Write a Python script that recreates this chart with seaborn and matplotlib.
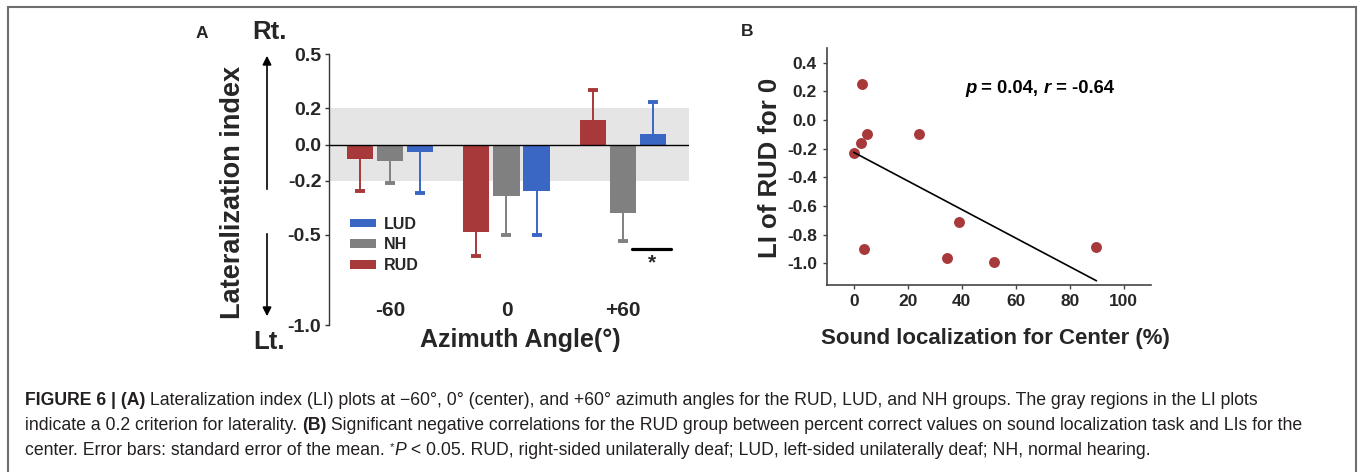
import numpy as np
import pandas as pd
import matplotlib
matplotlib.use("Agg")
import matplotlib.pyplot as plt
import seaborn as sns

# ---------- DATA ----------
angles = ["-60", "0", "+60"]
groups = ["RUD", "NH", "LUD"]
li_rud = [-0.078, -0.484, 0.137]
li_nh = [-0.089, -0.286, -0.382]
li_lud = [-0.039, -0.257, 0.059]
sem_rud = [0.181, 0.135, 0.163]
sem_nh = [0.123, 0.214, 0.150]
sem_lud = [0.231, 0.242, 0.179]

loc_center = [3.1, 4.9, 2.8, 0.0, 24.0, 38.9, 3.9, 34.4, 51.9, 89.9]
li_center = [0.252, -0.098, -0.161, -0.233, -0.096, -0.710, -0.896, -0.963, -0.988, -0.886]

a_yticks = [0.5, 0.2, 0.0, -0.2, -0.5, -1.0]
b_xticks = [0, 20, 40, 60, 80, 100]
b_yticks = [0.4, 0.2, 0.0, -0.2, -0.4, -0.6, -0.8, -1.0]

colors = {"RUD": "#a8393a", "NH": "#808080", "LUD": "#3b67c4"}

# ---------- STYLE ----------
sns.set_style("ticks")
plt.rcParams["font.family"] = ["Liberation Sans", "DejaVu Sans"]

W, H = 1362, 472
fig = plt.figure(figsize=(W / 100, H / 100), dpi=100)


def fx(x):
    return x / W


def fy(y):
    return 1 - y / H


axA = fig.add_axes([fx(329), fy(325), (689 - 329) / W, (325 - 54.3) / H])
axB = fig.add_axes([fx(826.7), fy(285), (1150.7 - 826.7) / W, (285 - 48.3) / H])

# ---------- PANEL A ----------
df = pd.DataFrame({
    "angle": angles * 3,
    "group": np.repeat(groups, 3),
    "LI": li_rud + li_nh + li_lud,
})
sns.barplot(data=df, x="angle", y="LI", hue="group", order=angles,
            hue_order=groups, palette=colors, errorbar=None, width=0.775,
            gap=0.13, saturation=1, linewidth=0, ax=axA, zorder=3)

# one-sided SEM bars, cap only at the outer end
for cont, errs in zip(axA.containers, [sem_rud, sem_nh, sem_lud]):
    for bar, e in zip(cont, errs):
        h = bar.get_height()
        xc = bar.get_x() + bar.get_width() / 2
        lo, hi = (e, 0) if h < 0 else (0, e)
        _, caps, _ = axA.errorbar(xc, h, yerr=[[lo], [hi]], fmt="none",
                                  ecolor=bar.get_facecolor(), elinewidth=1.4,
                                  capsize=3.5, capthick=2.8, zorder=2)
        for c in caps:
            c.set_solid_capstyle("round")
            if abs(c.get_ydata()[0] - h) < 1e-9:
                c.remove()

axA.axhspan(-0.2, 0.2, color="#e5e5e5", lw=0, zorder=0)
axA.axhline(0, color="black", lw=1, zorder=4)

axA.set_xlim(-0.524, 2.567)
axA.set_ylim(-1.0, 0.5)
axA.set_yticks(a_yticks, labels=[f"{v:.1f}" for v in a_yticks])
axA.set_xticks(range(3), labels=angles)
for s in ["top", "right", "bottom"]:
    axA.spines[s].set_visible(False)
axA.spines["left"].set_color("#333333")
axA.spines["left"].set_linewidth(1)
axA.tick_params(axis="y", direction="out", length=3, width=1,
                color="#333333", labelsize=14, pad=2.5)
axA.tick_params(axis="x", length=0, labelsize=15, pad=-17)
for t in axA.get_yticklabels() + axA.get_xticklabels():
    t.set_fontweight("bold")

axA.set_xlabel("Azimuth Angle(°)", fontsize=18, fontweight="bold", va="center")
axA.xaxis.set_label_coords(0.531, -0.055)
axA.set_ylabel("Lateralization index", fontsize=19.5, fontweight="bold", va="center")
axA.yaxis.set_label_coords((233 - 329) / 360, (325 - 192) / 270.7)

handles, labels = axA.get_legend_handles_labels()
axA.legend(handles[::-1], labels[::-1], loc="upper left",
           bbox_to_anchor=(0.058, 0.4), frameon=False,
           prop={"weight": "bold", "size": 11.5}, handlelength=1.65,
           handleheight=0.45, handletextpad=0.45, labelspacing=0.35,
           borderpad=0, borderaxespad=0)

# significance marker for +60
axA.plot([2.077, 2.412], [-0.58, -0.58], color="black", lw=2.3, clip_on=False, zorder=5)
axA.text(2.245, -0.655, "*", ha="center", va="center", fontsize=15, fontweight="bold")

# direction arrows
axA.annotate("", xy=(fx(267), fy(53)), xytext=(fx(267), fy(192)),
             xycoords="figure fraction",
             arrowprops=dict(arrowstyle="-|>", color="black", lw=1.2, mutation_scale=13))
axA.annotate("", xy=(fx(267), fy(319)), xytext=(fx(267), fy(231)),
             xycoords="figure fraction",
             arrowprops=dict(arrowstyle="-|>", color="black", lw=1.2, mutation_scale=13))
fig.text(fx(270), fy(32), "Rt.", ha="center", va="center", fontsize=18.5, fontweight="bold")
fig.text(fx(269), fy(342), "Lt.", ha="center", va="center", fontsize=18.5, fontweight="bold")
fig.text(fx(202), fy(33), "A", ha="center", va="center", fontsize=12.5, fontweight="bold")

# ---------- PANEL B ----------
sns.regplot(x=loc_center, y=li_center, ax=axB, ci=None, color=colors["RUD"],
            scatter_kws={"s": 62, "linewidths": 0, "alpha": 1},
            line_kws={"color": "black", "lw": 1.2})
axB.set_xlim(-10, 110)
axB.set_ylim(-1.15, 0.5)
axB.set_xticks(b_xticks)
axB.set_yticks(b_yticks, labels=[f"{v:.1f}" for v in b_yticks])
sns.despine(ax=axB)
for s in ["left", "bottom"]:
    axB.spines[s].set_color("#444444")
    axB.spines[s].set_linewidth(1.2)
axB.tick_params(direction="out", length=3, width=1, color="#444444", labelsize=12.5)
axB.tick_params(axis="y", pad=4)
axB.tick_params(axis="x", pad=3.5)
for t in axB.get_yticklabels() + axB.get_xticklabels():
    t.set_fontweight("bold")
axB.set_xlabel("Sound localization for Center (%)", fontsize=16, fontweight="bold", va="center")
axB.xaxis.set_label_coords(0.5216, -0.224)
axB.set_ylabel("LI of RUD for 0", fontsize=18.5, fontweight="bold", va="center")
axB.yaxis.set_label_coords(-0.175, 0.494)
fig.text(fx(747), fy(32), "B", ha="center", va="center", fontsize=12.5, fontweight="bold")


def chain_text(x_px, y_px, pieces, size, color):
    first = fig.text(fx(x_px), fy(y_px), pieces[0][0], ha="left", va="baseline",
                     fontsize=size, color=color, **pieces[0][1])
    prev = first
    for txt, st in pieces[1:]:
        st = dict(st)
        dy = st.pop("dy", 0)
        fs = st.pop("size", size)
        prev = axB.annotate(txt, xy=(1, 0), xycoords=(prev, first),
                            xytext=(0, dy), textcoords="offset points",
                            ha="left", va="bottom", fontsize=fs, color=color,
                            annotation_clip=False, **st)
    return first


chain_text(965, 93, [("p", {"fontweight": "bold", "fontstyle": "italic"}),
                     (" = 0.04, ", {"fontweight": "bold"}),
                     ("r", {"fontweight": "bold", "fontstyle": "italic"}),
                     (" = -0.64", {"fontweight": "bold"})], 13.3, "black")

# ---------- CAPTION ----------
cap_fs = 12.7
cap_col = "#231f20"
chain_text(25, 405, [
    ("FIGURE 6 | (A)", {"fontweight": "bold"}),
    (" Lateralization index (LI) plots at \u221260°, 0° (center), and +60° azimuth angles "
     "for the RUD, LUD, and NH groups. The gray regions in the LI plots", {}),
], cap_fs, cap_col)
chain_text(25, 430, [
    ("indicate a 0.2 criterion for laterality. ", {}),
    ("(B)", {"fontweight": "bold"}),
    (" Significant negative correlations for the RUD group between percent correct values "
     "on sound localization task and LIs for the", {}),
], cap_fs, cap_col)
chain_text(25, 455, [
    ("center. Error bars: standard error of the mean. ", {}),
    ("*", {"dy": 5, "size": 8}),
    ("P", {"fontstyle": "italic"}),
    (" < 0.05. RUD, right-sided unilaterally deaf; LUD, left-sided unilaterally deaf; "
     "NH, normal hearing.", {}),
], cap_fs, cap_col)

# figure frame
fig.add_artist(plt.Rectangle((fx(7.5), -0.1), fx(1356) - fx(7.5), fy(6.5) + 0.1,
                             transform=fig.transFigure, fill=False,
                             edgecolor="#6e6e6e", lw=1.5))

fig.savefig("out.png", dpi=100)
